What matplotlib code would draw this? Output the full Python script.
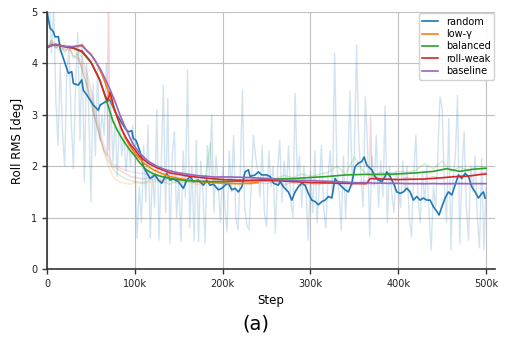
import numpy as np
import matplotlib
matplotlib.use("Agg")
import matplotlib.pyplot as plt
from matplotlib.ticker import FuncFormatter

# ---------------- data ----------------
labels = ["random", "low-γ", "balanced", "roll-weak", "baseline"]
colors = ["#1f77b4", "#ff7f0e", "#2ca02c", "#d62728", "#9467bd"]

# raw (unsmoothed) random run, one value every 2.5k steps (0 .. 500k)
raw_random_step_k = np.arange(201) * 2.5
raw_random = [
    4.6, 5.3, 4.2, 5.1, 3.3, 2.4, 4.0, 2.7, 2.0, 3.8, 4.3, 2.9, 1.95, 3.6, 4.6, 2.5, 4.4, 1.7, 4.0, 3.1,
    1.3, 3.6, 2.2, 3.9, 2.5, 3.0, 2.6, 4.0, 2.3, 3.3, 2.1, 2.9, 1.8, 3.0, 2.2, 2.6, 1.9, 2.5, 2.0, 2.8,
    2.2, 0.6, 1.6, 0.9, 2.4, 1.3, 2.8, 0.6, 1.9, 1.2, 3.1, 0.56, 2.0, 3.58, 1.1, 3.32, 0.5, 2.2, 2.67, 1.0,
    1.7, 0.53, 2.3, 1.4, 3.87, 0.8, 2.0, 0.55, 2.5, 0.53, 2.1, 1.5, 0.5, 2.4, 1.8, 3.0, 1.1, 2.2, 1.6, 0.9,
    2.0, 1.2, 0.72, 2.3, 1.5, 2.6, 1.0, 0.76, 1.9, 3.48, 1.2, 0.86, 0.76, 1.6, 2.6, 2.2, 1.9, 1.4, 2.4, 1.1,
    0.82, 2.3, 1.6, 2.0, 0.7, 1.9, 2.5, 1.3, 2.1, 1.5, 2.4, 1.34, 1.0, 3.42, 1.8, 2.2, 1.2, 2.0, 1.5, 0.56,
    1.9, 1.1, 2.3, 0.9, 1.6, 2.4, 1.2, 0.8, 1.8, 2.3, 1.4, 4.2, 2.0, 1.5, 0.76, 2.2, 1.0, 1.9, 3.46, 1.6,
    2.3, 4.36, 2.5, 1.8, 1.21, 3.35, 2.4, 0.63, 2.2, 1.6, 2.6, 1.2, 2.1, 1.4, 3.17, 0.9, 2.0, 1.5, 1.1, 1.9,
    1.7, 1.2, 2.1, 1.5, 2.0, 1.0, 0.63, 1.8, 2.6, 1.4, 0.9, 1.9, 1.3, 2.0, 1.1, 0.37, 1.6, 1.2, 2.2, 3.35,
    3.13, 1.6, 0.9, 2.93, 0.37, 1.8, 2.2, 3.38, 0.5, 1.9, 2.67, 1.2, 0.56, 2.0, 1.5, 2.2, 1.0, 0.41, 2.15, 0.37, 1.6,
]

# raw runs of the other configurations
raw_lowg_step_k = list(range(0, 101, 5)) + list(range(110, 241, 10))
raw_lowg = [4.3, 4.45, 4.35, 4.2, 4.4, 4.25, 4.3, 4.15, 4.0, 3.75, 3.4, 3.0, 2.6, 2.25, 2.0, 1.8, 1.72, 1.68, 1.66, 1.65, 1.68,
            1.66, 1.7, 1.68, 1.72, 1.66, 1.7, 1.64, 1.68, 1.66, 1.7, 1.64, 1.67, 1.65, 1.68]

raw_balanced_step_k = list(range(0, 101, 5)) + [110, 120, 130, 140, 150, 160, 170, 180, 186, 188, 190,
                                                 200, 210, 220, 230, 240, 250, 260, 270, 280, 290, 300, 310,
                                                 320, 330, 340, 350, 360, 370, 380, 390, 400, 410, 420, 430,
                                                 440, 450, 460, 470, 480, 490, 500]
raw_balanced = [4.3, 4.45, 4.3, 4.4, 4.2, 4.35, 4.1, 4.2, 3.85, 3.6, 3.2, 2.9, 2.55, 2.3, 2.1, 1.95, 1.85, 1.8, 1.75, 1.72, 1.7,
                1.68, 1.75, 1.7, 1.65, 1.72, 1.7, 1.68, 1.72, 2.45, 1.74, 1.72,
                1.72, 1.7, 1.74, 1.78, 1.72, 1.8, 1.76, 1.82, 1.78, 1.85, 1.8,
                1.84, 1.88, 2.0, 1.85, 2.18, 1.9, 1.82, 1.88, 1.86, 1.9, 1.88, 1.92, 2.05, 1.95, 2.1, 1.9, 1.98, 1.92, 2.0, 1.98]

raw_rollweak_step_k = list(range(0, 66, 5)) + [68.5, 70, 71.5] + list(range(75, 101, 5)) + \
    [110, 120, 130, 140, 150, 160, 170, 180, 190, 200, 210, 220, 230, 240, 250, 260, 270, 280, 290, 300,
     310, 320, 330, 340, 350, 360, 367, 368.5, 370, 380, 390, 400, 410, 420, 430, 440, 450, 460, 470, 480, 490, 500]
raw_rollweak = [4.3, 4.4, 4.3, 4.35, 4.25, 4.3, 4.15, 4.1, 3.9, 3.6, 3.3, 2.9, 2.6, 2.3,
                2.2, 5.6, 2.1,
                2.0, 1.95, 1.9, 1.85, 1.8, 1.78,
                1.75, 1.8, 1.72, 1.76, 1.7, 1.74, 1.68, 1.72, 1.7, 1.66,
                1.72, 1.7, 1.65, 1.68, 1.66, 1.7, 1.64, 1.68, 1.62, 1.66,
                1.64, 1.7, 1.65, 1.68, 1.66, 1.7,
                1.72, 2.96, 1.8,
                1.76, 1.75, 1.72, 1.78, 1.74, 1.76, 1.8, 1.75, 1.8, 1.82, 1.78, 1.85, 1.88]

raw_baseline_step_k = list(range(0, 101, 5)) + list(range(110, 501, 10))
raw_baseline = [4.3, 4.4, 4.32, 4.38, 4.28, 4.35, 4.3, 4.25, 4.1, 3.85, 3.5, 3.1, 2.7, 2.4, 2.2, 2.05, 2.0, 1.95, 1.92, 1.9, 1.88,
                1.85, 1.82, 1.8, 1.85, 1.78, 1.8, 1.76, 1.82, 1.78, 1.8, 1.76, 1.78, 1.74, 1.76, 1.72, 1.75, 1.7, 1.74, 1.7, 1.72,
                1.68, 1.7, 1.66, 1.68, 1.65, 1.68, 1.64, 1.67, 1.65, 1.68, 1.64, 1.67, 1.65, 1.68, 1.64, 1.66, 1.68, 1.65, 1.67, 1.66]

# smoothed curves
random_step_k = [0, 3.4, 7.2, 9.1, 12.9, 14.8, 20.5, 24.3, 28.1, 30.0,
                 35.7, 39.5, 41.3, 45.2, 49.0, 52.7, 58.4, 60.4, 66.1, 71.8,
                 77.4, 83.1, 88.8, 92.6, 96.5, 98.3, 101.4, 105.9, 109.7, 117.3,
                 123.0, 126.8, 130.6, 136.3, 140.1, 143.9, 149.5, 155.2, 159.1, 162.9,
                 166.6, 172.3, 178.0, 181.9, 185.7, 189.4, 195.1, 199.0, 202.7, 206.5,
                 210.4, 214.1, 217.9, 221.8, 225.5, 229.3, 231.2, 236.9, 240.7, 244.5,
                 250.2, 254.0, 257.8, 263.4, 265.4, 269.1, 274.8, 278.7, 282.5, 286.2,
                 290.1, 293.9, 297.6, 301.5, 305.3, 309.0, 312.9, 316.6, 320.4, 324.3,
                 326.1, 328.0, 331.8, 335.7, 339.4, 343.2, 347.1, 350.8, 354.6, 358.4,
                 361.1, 364.1, 366.0, 369.8, 373.6, 377.4, 381.2, 385.0, 386.9, 390.7,
                 394.4, 398.3, 402.1, 405.8, 409.7, 413.5, 417.2, 421.1, 424.8, 428.6,
                 432.5, 436.2, 440.0, 443.9, 446.5, 449.6, 453.3, 457.1, 461.0, 464.7,
                 468.5, 472.3, 476.1, 479.9, 483.7, 487.5, 491.3, 495.1, 497.0, 498.9]
random_smooth = [5.0, 4.69, 4.62, 4.52, 4.52, 4.29, 4.0, 3.81, 3.84, 3.61,
                 3.58, 3.68, 3.48, 3.39, 3.29, 3.19, 3.09, 3.19, 3.25, 3.29,
                 3.06, 2.90, 2.74, 2.67, 2.69, 2.54, 2.5, 2.28, 1.99, 1.76,
                 1.83, 1.73, 1.67, 1.86, 1.73, 1.75, 1.70, 1.57, 1.73, 1.80,
                 1.70, 1.73, 1.63, 1.73, 1.63, 1.65, 1.54, 1.57, 1.63, 1.67,
                 1.54, 1.57, 1.50, 1.60, 1.89, 1.93, 1.80, 1.83, 1.89, 1.83,
                 1.83, 1.80, 1.67, 1.63, 1.70, 1.60, 1.50, 1.34, 1.50, 1.60,
                 1.67, 1.63, 1.47, 1.34, 1.31, 1.25, 1.31, 1.34, 1.41, 1.38,
                 1.57, 1.76, 1.67, 1.60, 1.54, 1.50, 1.67, 1.99, 2.06, 2.09,
                 2.18, 2.02, 1.99, 1.93, 1.80, 1.73, 1.70, 1.80, 1.89, 1.80,
                 1.67, 1.50, 1.47, 1.50, 1.57, 1.50, 1.34, 1.41, 1.34, 1.38,
                 1.34, 1.34, 1.21, 1.12, 1.05, 1.21, 1.38, 1.50, 1.44, 1.63,
                 1.83, 1.76, 1.86, 1.80, 1.60, 1.50, 1.38, 1.47, 1.50, 1.38]

lowg_step_k = [0, 5, 10, 20, 30, 40, 50, 55, 60, 65, 70, 75, 80, 85, 90, 95, 100, 110, 120, 130,
               140, 150, 165, 180, 200, 220, 240]
lowg_smooth = [4.32, 4.35, 4.37, 4.33, 4.32, 4.34, 4.18, 4.05, 3.88, 3.68, 3.45, 3.2, 2.95, 2.72, 2.52, 2.38, 2.25, 2.06, 1.94, 1.86,
               1.8, 1.76, 1.72, 1.69, 1.67, 1.66, 1.68]

balanced_step_k = [0, 5, 10, 20, 30, 40, 50, 60, 65, 70, 75, 80, 85, 90, 95, 100, 105, 113, 120, 130,
                   140, 150, 160, 180, 200, 220, 240, 260, 280, 300, 320, 340, 360, 380, 400, 420, 440, 455, 470, 485, 500]
balanced_smooth = [4.3, 4.35, 4.37, 4.33, 4.3, 4.22, 4.02, 3.68, 3.42, 3.15, 2.88, 2.7, 2.55, 2.42, 2.3, 2.2, 2.08, 1.93, 1.86, 1.8,
                   1.76, 1.74, 1.72, 1.7, 1.7, 1.71, 1.73, 1.75, 1.76, 1.78, 1.8, 1.83, 1.84, 1.84, 1.85, 1.87, 1.9, 1.95, 1.9, 1.94, 1.96]

rollweak_step_k = [0, 5, 10, 20, 30, 40, 50, 60, 66, 69, 72, 76, 80, 85, 90, 95, 100, 105, 115, 125,
                   140, 160, 180, 200, 230, 260, 280, 300, 330, 360, 364, 368, 380, 400, 430, 460, 480, 500]
rollweak_smooth = [4.32, 4.35, 4.37, 4.33, 4.3, 4.24, 4.03, 3.68, 3.38, 3.28, 3.45, 3.15, 2.95, 2.72, 2.55, 2.42, 2.32, 2.2, 2.06, 1.97,
                   1.87, 1.81, 1.77, 1.74, 1.72, 1.72, 1.7, 1.68, 1.67, 1.66, 1.66, 1.76, 1.75, 1.74, 1.75, 1.79, 1.81, 1.85]

baseline_step_k = [0, 5, 10, 20, 30, 40, 45, 50, 55, 62, 70, 77, 83, 90, 98, 105, 115, 125, 135, 150,
                   170, 190, 210, 230, 250, 270, 300, 330, 350, 380, 420, 460, 500]
baseline_smooth = [4.32, 4.35, 4.37, 4.33, 4.33, 4.36, 4.25, 4.17, 4.05, 3.85, 3.56, 3.28, 3.0, 2.72, 2.43, 2.26, 2.1, 2.0, 1.93, 1.87,
                   1.82, 1.79, 1.79, 1.78, 1.76, 1.73, 1.72, 1.7, 1.68, 1.67, 1.66, 1.66, 1.66]

raw_sets = [(raw_random_step_k, raw_random), (raw_lowg_step_k, raw_lowg), (raw_balanced_step_k, raw_balanced),
            (raw_rollweak_step_k, raw_rollweak), (raw_baseline_step_k, raw_baseline)]
smooth_sets = [(random_step_k, random_smooth), (lowg_step_k, lowg_smooth), (balanced_step_k, balanced_smooth),
               (rollweak_step_k, rollweak_smooth), (baseline_step_k, baseline_smooth)]

# ---------------- figure ----------------
fig = plt.figure(figsize=(5.06, 3.37), dpi=100)
ax = fig.add_axes([0.093, 0.202, 0.885, 0.762])

for (xs, ys), c in zip(raw_sets, colors):
    ax.plot(np.asarray(xs) * 1000, ys, color=c, alpha=0.2, lw=1.0, zorder=1)
for (xs, ys), c, lab in zip(smooth_sets, colors, labels):
    ax.plot(np.asarray(xs) * 1000, ys, color=c, lw=1.2, label=lab, zorder=2)

ax.set_xlim(0, 510000)
ax.set_ylim(0, 5)
ax.set_xticks([0, 100000, 200000, 300000, 400000, 500000])
ax.set_yticks([0, 1, 2, 3, 4, 5])
ax.xaxis.set_major_formatter(FuncFormatter(lambda v, p: "0" if v == 0 else f"{int(v/1000)}k"))
ax.grid(True, color="#c0c0c0", lw=0.8)
ax.set_axisbelow(True)
for s in ["top", "right"]:
    ax.spines[s].set_visible(False)
for s in ["left", "bottom"]:
    ax.spines[s].set_color("#333333")
    ax.spines[s].set_linewidth(1.2)
ax.tick_params(labelsize=7, length=3.5, width=1, color="#333333", labelcolor="#222222")
ax.set_xlabel("Step", fontsize=8.5, labelpad=4)
ax.set_ylabel("Roll RMS [deg]", fontsize=8.5, labelpad=5)

leg = ax.legend(loc="upper right", fontsize=7, handlelength=1.6, handletextpad=0.8,
                borderaxespad=0.1, labelspacing=0.25, borderpad=0.35, framealpha=0.9,
                bbox_to_anchor=(1.0, 1.0))
leg.get_frame().set_edgecolor("#cccccc")

fig.text(0.506, 0.038, "(a)", ha="center", va="center", fontsize=14)

fig.savefig("out.png", dpi=100)
